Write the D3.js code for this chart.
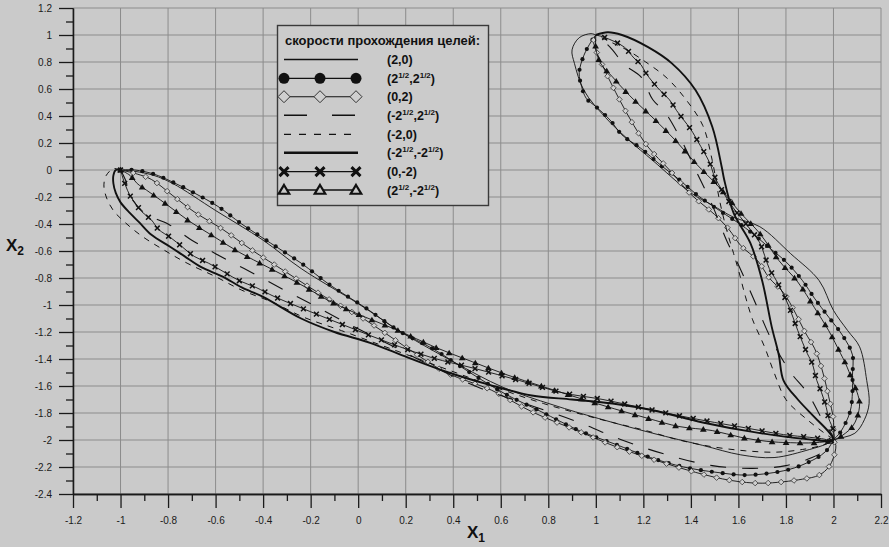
<!DOCTYPE html>
<html>
<head>
<meta charset="utf-8">
<script src="https://cdn.jsdelivr.net/npm/d3@7"></script>
<style>
  body { margin: 0; background: #cacaca; }
  #chart { width: 889px; height: 547px; }
  text { font-family: "Liberation Sans", Arial, sans-serif; }
</style>
</head>
<body>
<div id="chart"></div>
<script>

// tick labels
const xTickLabels = ["-1.2","-1","-0.8","-0.6","-0.4","-0.2","0","0.2","0.4","0.6","0.8","1","1.2","1.4","1.6","1.8","2","2.2"];
const yTickLabels = ["1.2","1","0.8","0.6","0.4","0.2","0","-0.2","-0.4","-0.6","-0.8","-1","-1.2","-1.4","-1.6","-1.8","-2","-2.2","-2.4"];

// legend labels, {..} = superscript
const legendTitle = "скорости прохождения целей:";
const legendLabels = ["(2,0)", "(2{1/2},2{1/2})", "(0,2)", "(-2{1/2},2{1/2})", "(-2,0)", "(-2{1/2},-2{1/2})", "(0,-2)", "(2{1/2},-2{1/2})"];

// trajectories (x1, x2): (-1,0) -> (2,-2) -> (1,1)
const path20 = [[-1,0],[-0.94,-0.01],[-0.86,-0.04],[-0.78,-0.10],[-0.60,-0.30],[-0.40,-0.52],[-0.24,-0.73],[0,-0.99],[0.19,-1.21],[0.40,-1.42],[0.61,-1.61],[0.82,-1.74],[1.01,-1.84],[1.24,-1.95],[1.45,-2.04],[1.61,-2.11],[1.75,-2.13],[1.90,-2.07],[1.97,-2.03],[2,-2],
  [2.09,-1.95],[2.13,-1.85],[2.15,-1.73],[2.14,-1.56],[2.11,-1.31],[2.06,-1.19],[2.0,-1.04],[1.94,-0.82],[1.82,-0.62],[1.69,-0.42],[1.58,-0.35],[1.49,-0.26],[1.40,-0.17],[1.24,0.07],[1.14,0.22],[1.04,0.39],[0.95,0.59],[0.91,0.79],[0.90,0.89],[0.93,0.98],[0.98,1.01],[1,1]];

const pathS2S2 = [[-1,0],[-0.94,0],[-0.86,-0.03],[-0.78,-0.09],[-0.69,-0.17],[-0.59,-0.27],[-0.49,-0.40],[-0.37,-0.54],[-0.24,-0.69],[-0.12,-0.85],[0.03,-1.02],[0.17,-1.19],[0.32,-1.33],[0.47,-1.50],[0.62,-1.66],[0.77,-1.79],[0.93,-1.93],[1.08,-2.03],[1.23,-2.13],[1.37,-2.20],[1.51,-2.24],[1.64,-2.26],[1.81,-2.22],[1.90,-2.16],[1.95,-2.11],[1.98,-2.06],[2,-2],
  [2.03,-1.94],[2.07,-1.79],[2.08,-1.64],[2.08,-1.52],[2.08,-1.37],[2.04,-1.23],[1.98,-1.09],[1.92,-0.95],[1.87,-0.82],[1.80,-0.68],[1.74,-0.59],[1.63,-0.43],[1.52,-0.30],[1.43,-0.19],[1.35,-0.07],[1.27,0.04],[1.19,0.16],[1.11,0.26],[1.06,0.37],[1.0,0.47],[0.96,0.53],[0.94,0.62],[0.93,0.72],[0.95,0.85],[0.98,0.95],[1,1]];

const path02 = [[-1,0],[-0.93,-0.03],[-0.87,-0.07],[-0.78,-0.19],[-0.69,-0.31],[-0.57,-0.44],[-0.45,-0.59],[-0.30,-0.76],[-0.14,-0.94],[0.03,-1.11],[0.19,-1.30],[0.37,-1.50],[0.56,-1.63],[0.73,-1.79],[0.92,-1.93],[1.10,-2.06],[1.27,-2.16],[1.42,-2.24],[1.57,-2.30],[1.70,-2.32],[1.87,-2.29],[1.94,-2.26],[1.98,-2.20],[2.0,-2.13],[2.01,-2.04],[2,-2],
  [2.0,-1.85],[1.98,-1.68],[1.96,-1.53],[1.94,-1.41],[1.92,-1.32],[1.88,-1.20],[1.84,-1.06],[1.79,-0.91],[1.73,-0.80],[1.68,-0.67],[1.61,-0.56],[1.56,-0.44],[1.50,-0.33],[1.40,-0.18],[1.31,0],[1.22,0.17],[1.16,0.33],[1.10,0.52],[1.04,0.73],[1.0,0.89],[0.99,0.96],[1,1]];

const pathMS2S2 = [[-1,0],[-0.98,-0.07],[-0.95,-0.22],[-0.89,-0.33],[-0.80,-0.40],[-0.70,-0.52],[-0.60,-0.62],[-0.48,-0.73],[-0.31,-0.89],[-0.19,-1.0],[-0.03,-1.15],[0.14,-1.30],[0.33,-1.47],[0.52,-1.62],[0.72,-1.74],[0.93,-1.87],[1.11,-2.0],[1.30,-2.11],[1.49,-2.19],[1.66,-2.21],[1.80,-2.19],[1.91,-2.13],[1.97,-2.07],[2,-2],
  [1.95,-1.84],[1.89,-1.65],[1.82,-1.50],[1.74,-1.26],[1.67,-0.98],[1.61,-0.74],[1.55,-0.52],[1.49,-0.26],[1.42,0],[1.36,0.22],[1.29,0.43],[1.24,0.52],[1.19,0.69],[1.12,0.78],[1.07,0.89],[1.03,0.96],[1,1]];

const pathM20 = [[-1,0],[-1.03,0.01],[-1.06,-0.04],[-1.07,-0.11],[-1.06,-0.20],[-1.03,-0.30],[-0.98,-0.39],[-0.91,-0.49],[-0.82,-0.59],[-0.72,-0.69],[-0.60,-0.79],[-0.49,-0.89],[-0.36,-0.98],[-0.23,-1.09],[-0.07,-1.19],[0.10,-1.30],[0.27,-1.41],[0.44,-1.52],[0.61,-1.63],[0.78,-1.73],[0.94,-1.81],[1.07,-1.87],[1.21,-1.93],[1.35,-2.0],[1.49,-2.05],[1.63,-2.08],[1.76,-2.09],[1.87,-2.07],[1.95,-2.04],[2,-2],
  [1.97,-1.96],[1.89,-1.85],[1.80,-1.70],[1.75,-1.50],[1.71,-1.31],[1.66,-1.11],[1.63,-0.94],[1.60,-0.74],[1.58,-0.62],[1.55,-0.44],[1.52,-0.22],[1.49,0.07],[1.45,0.33],[1.38,0.52],[1.30,0.68],[1.21,0.80],[1.13,0.89],[1.06,0.95],[1,1]];

const pathMS2MS2 = [[-1,0],[-1.02,0],[-1.03,-0.04],[-1.03,-0.10],[-1.02,-0.17],[-1.0,-0.24],[-0.96,-0.32],[-0.92,-0.39],[-0.87,-0.48],[-0.79,-0.57],[-0.73,-0.64],[-0.66,-0.72],[-0.57,-0.79],[-0.49,-0.87],[-0.40,-0.94],[-0.24,-1.10],[-0.10,-1.20],[0.05,-1.28],[0.21,-1.39],[0.38,-1.50],[0.55,-1.59],[0.73,-1.67],[0.90,-1.70],[1.07,-1.73],[1.24,-1.78],[1.45,-1.87],[1.66,-1.94],[1.87,-1.99],[2,-2],
  [1.98,-1.94],[1.92,-1.83],[1.85,-1.70],[1.79,-1.56],[1.77,-1.37],[1.74,-1.16],[1.70,-0.82],[1.65,-0.54],[1.58,-0.32],[1.54,-0.07],[1.53,0.02],[1.49,0.32],[1.42,0.59],[1.32,0.79],[1.22,0.91],[1.11,1.0],[1.05,1.02],[1,1]];

const path0M2 = [[-1,0],[-0.99,-0.06],[-0.98,-0.11],[-0.96,-0.19],[-0.94,-0.24],[-0.91,-0.31],[-0.87,-0.37],[-0.84,-0.44],[-0.79,-0.50],[-0.74,-0.57],[-0.69,-0.64],[-0.63,-0.69],[-0.56,-0.76],[-0.50,-0.82],[-0.43,-0.87],[-0.35,-0.94],[-0.20,-1.05],[-0.03,-1.17],[0.13,-1.28],[0.31,-1.39],[0.49,-1.47],[0.68,-1.56],[0.86,-1.65],[1.03,-1.70],[1.19,-1.76],[1.35,-1.82],[1.50,-1.87],[1.63,-1.91],[1.79,-1.96],[1.90,-1.98],[1.95,-1.99],[2,-2],
  [2.0,-1.93],[1.98,-1.84],[1.97,-1.76],[1.95,-1.65],[1.93,-1.56],[1.91,-1.43],[1.89,-1.36],[1.85,-1.19],[1.81,-1.0],[1.76,-0.82],[1.73,-0.73],[1.69,-0.54],[1.65,-0.44],[1.57,-0.26],[1.50,-0.05],[1.48,0.05],[1.43,0.21],[1.40,0.30],[1.37,0.37],[1.34,0.44],[1.31,0.52],[1.27,0.59],[1.24,0.65],[1.21,0.72],[1.19,0.78],[1.16,0.83],[1.12,0.91],[1.04,0.98],[1,1]];

const pathS2MS2 = [[-1,0],[-0.96,-0.04],[-0.93,-0.10],[-0.89,-0.15],[-0.81,-0.25],[-0.71,-0.38],[-0.61,-0.49],[-0.50,-0.61],[-0.38,-0.72],[-0.25,-0.84],[-0.11,-0.98],[0.03,-1.09],[0.17,-1.19],[0.32,-1.31],[0.48,-1.42],[0.63,-1.52],[0.77,-1.60],[0.93,-1.69],[1.08,-1.77],[1.22,-1.84],[1.35,-1.90],[1.49,-1.93],[1.61,-1.98],[1.72,-2.01],[1.82,-2.02],[1.92,-2.02],[2,-2],
  [2.05,-1.95],[2.08,-1.90],[2.10,-1.83],[2.11,-1.73],[2.10,-1.65],[2.08,-1.56],[2.05,-1.43],[2.03,-1.36],[1.98,-1.19],[1.92,-1.02],[1.85,-0.83],[1.77,-0.67],[1.69,-0.47],[1.61,-0.32],[1.52,-0.13],[1.42,0.05],[1.34,0.21],[1.25,0.37],[1.16,0.52],[1.10,0.63],[1.07,0.69],[1.02,0.79],[1.0,0.90],[1,1]];


const width = 889, height = 547;
const svg = d3.select("#chart").append("svg")
    .attr("width", width)
    .attr("height", height);

svg.append("rect").attr("width", width).attr("height", height).attr("fill", "#cacaca");

const plot = { left: 73, right: 881, top: 8, bottom: 494 };

const xScale = d3.scaleLinear().domain([-1.2, 2.2]).range([plot.left, plot.right]);
const yScale = d3.scaleLinear().domain([-2.4, 1.2]).range([plot.bottom, plot.top]);

const xMajor = xTickLabels.map(Number);
const yMajor = yTickLabels.map(Number);
const xMinor = xMajor.slice(0, -1).map(v => +(v + 0.1).toFixed(1));
const yMinor = yMajor.slice(0, -1).map(v => +(v - 0.1).toFixed(1));

// grid
svg.append("g")
    .selectAll("line")
    .data(xMajor)
    .join("line")
    .attr("x1", d => xScale(d)).attr("x2", d => xScale(d))
    .attr("y1", plot.top).attr("y2", plot.bottom)
    .attr("stroke", "#8c8c8c").attr("stroke-width", 1);

svg.append("g")
    .selectAll("line")
    .data(yMajor)
    .join("line")
    .attr("y1", d => yScale(d)).attr("y2", d => yScale(d))
    .attr("x1", plot.left).attr("x2", plot.right)
    .attr("stroke", "#8c8c8c").attr("stroke-width", 1);

// axes
function styleAxis(g) {
    g.select(".domain").attr("stroke", "#1a1a1a").attr("stroke-width", 1.3);
    g.selectAll(".tick line").attr("stroke", "#1a1a1a").attr("stroke-width", 1.3);
    g.selectAll(".tick text").attr("fill", "#1a1a1a").style("font-size", "10px");
}

svg.append("g")
    .attr("transform", `translate(0,${plot.bottom})`)
    .call(d3.axisBottom(xScale).tickValues(xMinor).tickSize(7).tickSizeOuter(0).tickFormat(""))
    .call(styleAxis);

svg.append("g")
    .attr("transform", `translate(0,${plot.bottom})`)
    .call(d3.axisBottom(xScale).tickValues(xMajor).tickSize(14).tickSizeOuter(0).tickPadding(9)
        .tickFormat((d, i) => xTickLabels[i]))
    .call(styleAxis);

svg.append("g")
    .attr("transform", `translate(${plot.left},0)`)
    .call(d3.axisLeft(yScale).tickValues(yMinor).tickSize(7).tickSizeOuter(0).tickFormat(""))
    .call(styleAxis);

svg.append("g")
    .attr("transform", `translate(${plot.left},0)`)
    .call(d3.axisLeft(yScale).tickValues(yMajor).tickSize(14).tickSizeOuter(0).tickPadding(7)
        .tickFormat((d, i) => yTickLabels[i]))
    .call(styleAxis);

// axis titles
const xTitle = svg.append("text")
    .attr("x", 467).attr("y", 538)
    .attr("font-weight", "bold").attr("font-size", 17).attr("fill", "#111");
xTitle.append("tspan").text("X");
xTitle.append("tspan").attr("font-size", 12).attr("dy", 4).text("1");

const yTitle = svg.append("text")
    .attr("x", 6).attr("y", 251)
    .attr("font-weight", "bold").attr("font-size", 17).attr("fill", "#111");
yTitle.append("tspan").text("X");
yTitle.append("tspan").attr("font-size", 12).attr("dy", 4).text("2");

// markers
const markerShapes = {
    circle: (g, r) => g.append("circle").attr("r", r),
    diamond: (g, r) => g.append("path").attr("d", `M0,${-r}L${r},0L0,${r}L${-r},0Z`),
    triangle: (g, r) => g.append("path").attr("d", `M0,${-r}L${r * 1.05},${r * 0.75}L${-r * 1.05},${r * 0.75}Z`),
    cross: (g, r) => g.append("path").attr("d", `M${-r},${-r}L${r},${r}M${r},${-r}L${-r},${r}`)
};

const series = [
    { data: path20,      width: 0.9, dash: null,    marker: null },
    { data: pathS2S2,    width: 0.9, dash: null,    marker: "circle",   step: 11, r: 2.1 },
    { data: path02,      width: 0.9, dash: null,    marker: "diamond",  step: 13, r: 2.8 },
    { data: pathMS2S2,   width: 1.1, dash: "16,16", marker: null },
    { data: pathM20,     width: 1.0, dash: "6,6",   marker: null },
    { data: pathMS2MS2,  width: 1.9, dash: null,    marker: null },
    { data: path0M2,     width: 0.9, dash: null,    marker: "cross",    step: 14, r: 2.4 },
    { data: pathS2MS2,   width: 0.9, dash: null,    marker: "triangle", step: 14, r: 3.2 }
];

const line = d3.line()
    .x(d => xScale(d[0]))
    .y(d => yScale(d[1]))
    .curve(d3.curveCatmullRom.alpha(0.5));

function markerStyle(sel, kind, legend) {
    if (kind === "circle") sel.attr("fill", "#111").attr("stroke", "none");
    if (kind === "diamond") sel.attr("fill", "#cfcfcf").attr("stroke", "#333").attr("stroke-width", legend ? 1 : 0.8);
    if (kind === "triangle") {
        if (legend) sel.attr("fill", "#cacaca").attr("stroke", "#111").attr("stroke-width", 2.2);
        else sel.attr("fill", "#111").attr("stroke", "none");
    }
    if (kind === "cross") sel.attr("fill", "none").attr("stroke", "#111").attr("stroke-width", legend ? 3 : 1.5);
}

const curves = svg.append("g");

series.forEach(s => {
    const p = curves.append("path")
        .attr("d", line(s.data))
        .attr("fill", "none")
        .attr("stroke", "#111")
        .attr("stroke-width", s.width)
        .attr("stroke-dasharray", s.dash);

    if (s.marker) {
        const node = p.node();
        const L = node.getTotalLength();
        const pts = d3.range(0, L, s.step).map(len => node.getPointAtLength(len));
        const mg = curves.append("g");
        pts.forEach(pt => {
            const g = mg.append("g").attr("transform", `translate(${pt.x},${pt.y})`);
            markerStyle(markerShapes[s.marker](g, s.r), s.marker, false);
        });
    }
});

// legend
const legend = svg.append("g");
legend.append("rect")
    .attr("x", 277.5).attr("y", 25.5).attr("width", 211).attr("height", 180)
    .attr("fill", "#cbcbcb").attr("stroke", "#3a3a3a").attr("stroke-width", 1.4);

legend.append("text")
    .attr("x", 285).attr("y", 45)
    .attr("font-weight", "bold").attr("font-size", 13).attr("fill", "#111")
    .text(legendTitle);

const rowY = [59.5, 78.3, 96.7, 115.2, 134.3, 152.8, 171.6, 190];
const legendStyle = [
    { width: 1.3, dash: null },
    { width: 1.3, dash: null, marker: "circle", r: 5.5 },
    { width: 1.1, dash: null, marker: "diamond", r: 6 },
    { width: 1.4, dash: "23,25" },
    { width: 1.3, dash: "7,8" },
    { width: 2.6, dash: null },
    { width: 1.3, dash: null, marker: "cross", r: 4.5 },
    { width: 1.3, dash: null, marker: "triangle", r: 5 }
];

legendLabels.forEach((lab, i) => {
    const y = rowY[i];
    const st = legendStyle[i];
    legend.append("line")
        .attr("x1", 284).attr("x2", 358).attr("y1", y).attr("y2", y)
        .attr("stroke", "#111").attr("stroke-width", st.width)
        .attr("stroke-dasharray", st.dash);
    if (st.marker) {
        [284, 320, 356].forEach(mx => {
            const g = legend.append("g").attr("transform", `translate(${mx},${y})`);
            markerStyle(markerShapes[st.marker](g, st.r), st.marker, true);
        });
    }
    const t = legend.append("text")
        .attr("x", 387).attr("y", y + 4.5)
        .attr("font-weight", "bold").attr("font-size", 12.5).attr("fill", "#111");
    let shift = 0;
    lab.split(/(\{[^}]*\})/).filter(p => p.length).forEach(part => {
        if (part.startsWith("{")) {
            t.append("tspan").attr("font-size", 8).attr("dy", -5 - shift).text(part.slice(1, -1));
            shift = -5;
        } else {
            t.append("tspan").attr("dy", -shift).text(part);
            shift = 0;
        }
    });
});

</script>
</body>
</html>
